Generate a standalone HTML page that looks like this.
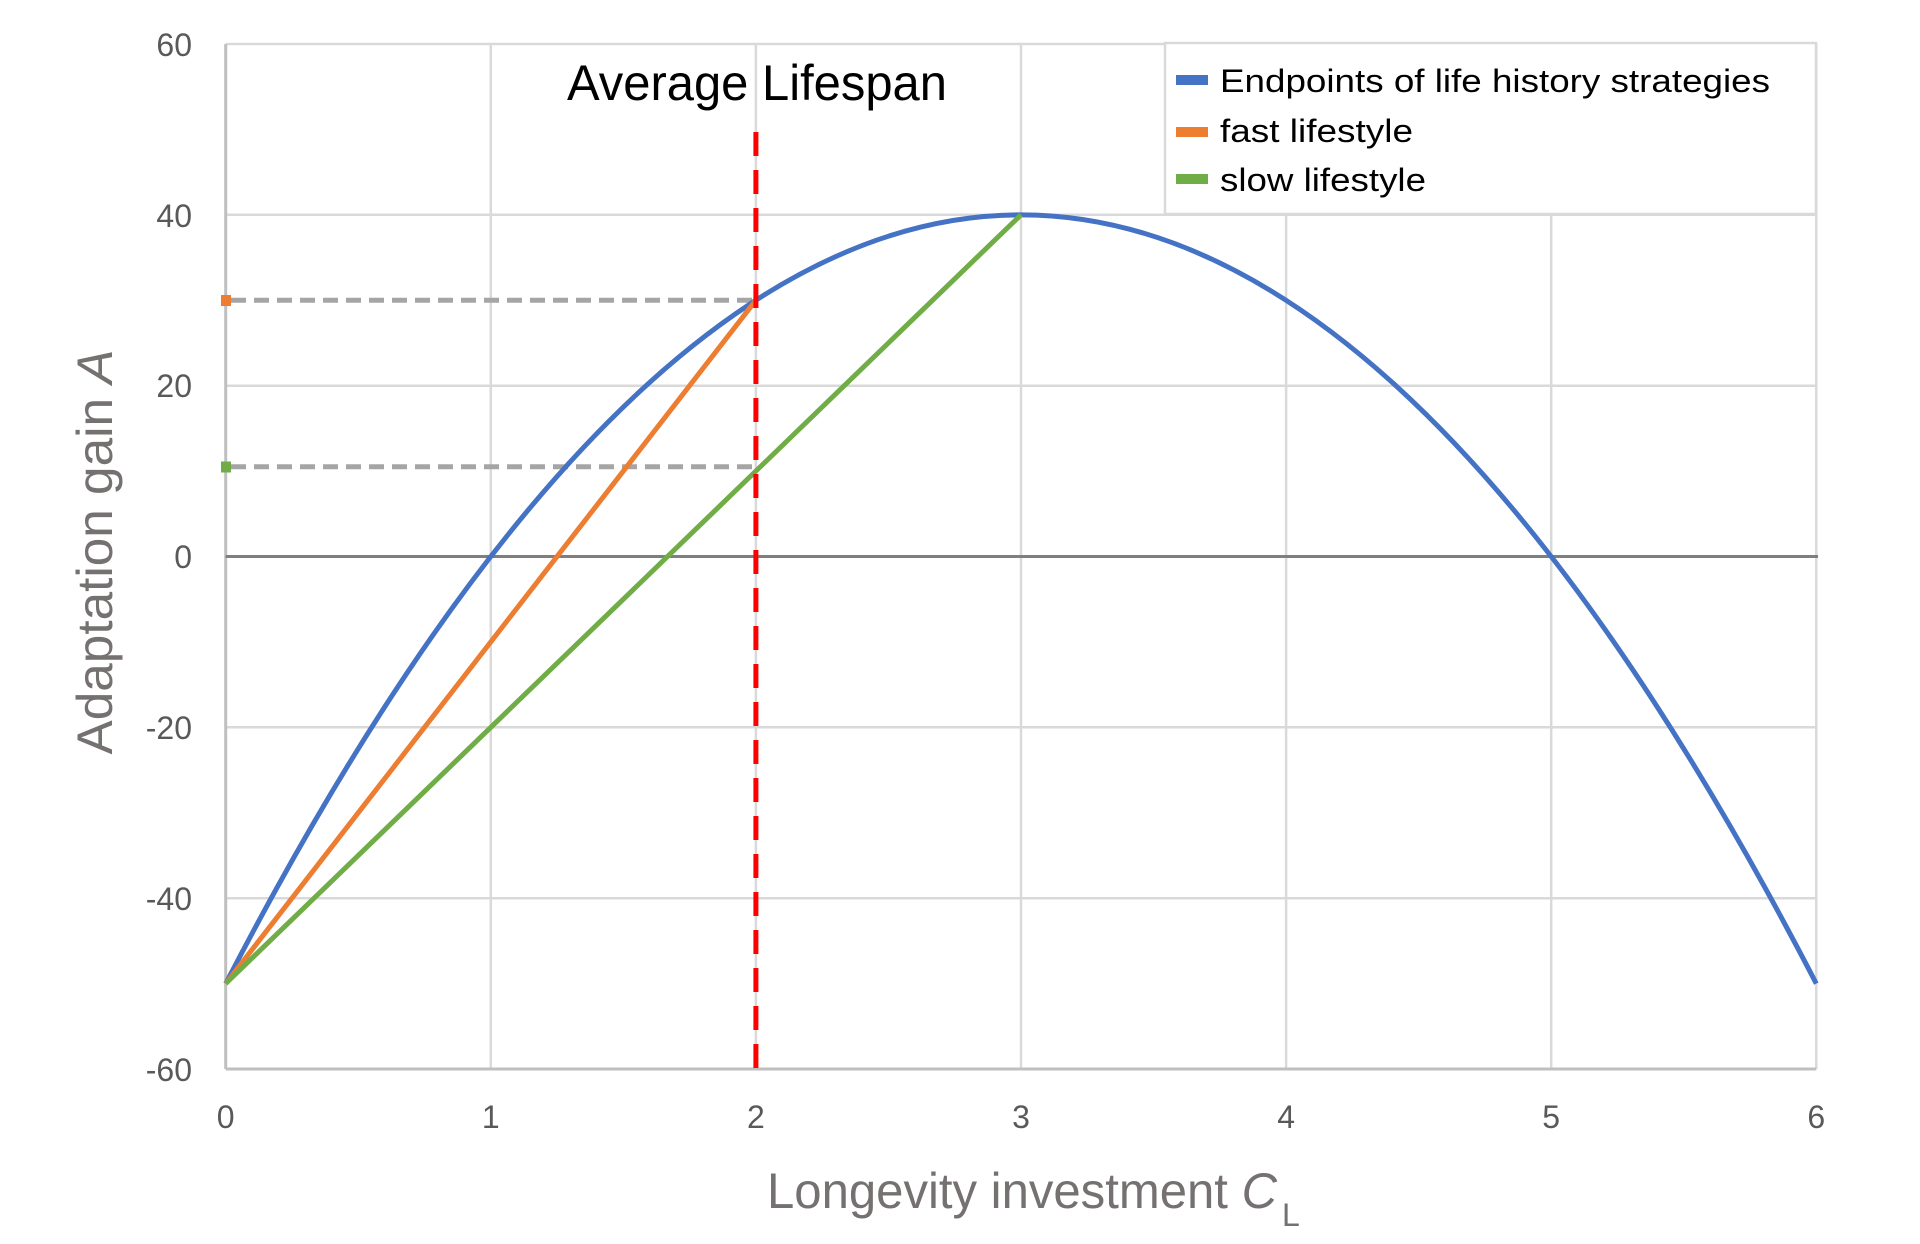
<!DOCTYPE html>
<html><head><meta charset="utf-8"><style>html,body{margin:0;padding:0;background:#fff}svg{display:block}</style></head>
<body>
<svg width="1920" height="1244" viewBox="0 0 1920 1244" xmlns="http://www.w3.org/2000/svg" font-family="Liberation Sans, sans-serif">
<rect width="1920" height="1244" fill="#fff"/>
<g stroke="#d9d9d9" stroke-width="2.5">
<line x1="225.7" y1="44" x2="1816.3" y2="44"/>
<line x1="225.7" y1="214.8" x2="1816.3" y2="214.8"/>
<line x1="225.7" y1="385.7" x2="1816.3" y2="385.7"/>
<line x1="225.7" y1="727.3" x2="1816.3" y2="727.3"/>
<line x1="225.7" y1="898.2" x2="1816.3" y2="898.2"/>
<line x1="490.8" y1="44" x2="490.8" y2="1069"/>
<line x1="755.9" y1="44" x2="755.9" y2="1069"/>
<line x1="1021" y1="44" x2="1021" y2="1069"/>
<line x1="1286.1" y1="44" x2="1286.1" y2="1069"/>
<line x1="1551.2" y1="44" x2="1551.2" y2="1069"/>
<line x1="1816.3" y1="44" x2="1816.3" y2="1069"/>
</g>
<line x1="225.7" y1="44" x2="225.7" y2="1069" stroke="#bfbfbf" stroke-width="3"/>
<line x1="225.7" y1="1069" x2="1816.3" y2="1069" stroke="#bfbfbf" stroke-width="3"/>
<line x1="225.7" y1="556.5" x2="1818" y2="556.5" stroke="#7f7f7f" stroke-width="3"/>
<g stroke="#a5a5a5" stroke-width="5" stroke-dasharray="15,8">
<line x1="231" y1="300.2" x2="755" y2="300.2"/>
<line x1="231" y1="466.8" x2="755" y2="466.8"/>
</g>
<rect x="221" y="295" width="10" height="11" fill="#ed7d31"/>
<rect x="221" y="461.5" width="10" height="11" fill="#70ad47"/>
<path d="M225.7,983.6 Q1020.9,-553.9 1816.3,983.6" fill="none" stroke="#4472c4" stroke-width="5"/>
<line x1="225.7" y1="983.6" x2="755.9" y2="300.2" stroke="#ed7d31" stroke-width="5"/>
<line x1="225.7" y1="983.6" x2="1021" y2="214.8" stroke="#70ad47" stroke-width="5"/>
<line x1="755.9" y1="132" x2="755.9" y2="1069" stroke="#ff0000" stroke-width="5" stroke-dasharray="24,14"/>
<g fill="#595959" font-size="32" text-anchor="end">
<text x="192" y="56">60</text>
<text x="192" y="227">40</text>
<text x="192" y="397">20</text>
<text x="192" y="568">0</text>
<text x="192" y="739">-20</text>
<text x="192" y="910">-40</text>
<text x="192" y="1081">-60</text>
</g>
<g fill="#595959" font-size="32" text-anchor="middle">
<text x="225.7" y="1128">0</text>
<text x="490.8" y="1128">1</text>
<text x="755.9" y="1128">2</text>
<text x="1021" y="1128">3</text>
<text x="1286.1" y="1128">4</text>
<text x="1551.2" y="1128">5</text>
<text x="1816.3" y="1128">6</text>
</g>
<text x="567" y="100" font-size="50" fill="#000" textLength="380" lengthAdjust="spacingAndGlyphs">Average Lifespan</text>
<text x="767" y="1208" font-size="50" fill="#767171" textLength="510" lengthAdjust="spacingAndGlyphs">Longevity investment <tspan font-style="italic">C</tspan></text>
<text x="1282" y="1226" font-size="32" fill="#767171">L</text>
<text transform="translate(112,552) rotate(-90)" text-anchor="middle" font-size="50" fill="#767171" textLength="405" lengthAdjust="spacingAndGlyphs">Adaptation gain <tspan font-style="italic">A</tspan></text>
<rect x="1165" y="43" width="651" height="171" fill="#fff" stroke="#d9d9d9" stroke-width="2.5"/>
<rect x="1176" y="75" width="32" height="10" fill="#4472c4"/>
<rect x="1176" y="127" width="32" height="10" fill="#ed7d31"/>
<rect x="1176" y="174" width="32" height="10" fill="#70ad47"/>
<g font-size="32" fill="#000">
<text x="1220" y="92" textLength="550" lengthAdjust="spacingAndGlyphs">Endpoints of life history strategies</text>
<text x="1220" y="142" textLength="193" lengthAdjust="spacingAndGlyphs">fast lifestyle</text>
<text x="1220" y="191" textLength="206" lengthAdjust="spacingAndGlyphs">slow lifestyle</text>
</g>
</svg>
</body></html>
